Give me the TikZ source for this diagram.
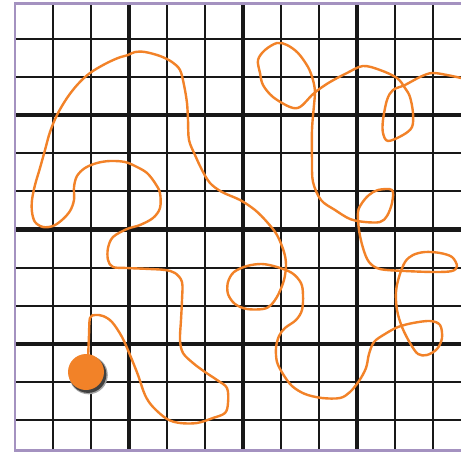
\documentclass[tikz,border=0pt]{standalone}
\definecolor{framecol}{RGB}{164,146,192}
\definecolor{curvecol}{RGB}{242,130,40}
\definecolor{inkcol}{RGB}{24,24,24}
\tikzset{
  thinline/.style={draw=inkcol, line width=2pt},
  thickline/.style={draw=inkcol, line width=4.5pt},
  framer/.style={draw=framecol, line width=2.6pt},
  pathline/.style={draw=curvecol, line width=2.4pt, line join=round, line cap=round},
}
\begin{document}
\begin{tikzpicture}[x=1pt,y=-1pt]
\useasboundingbox (0,0) rectangle (461,453);
\fill[white] (0,0) rectangle (461,453);
\foreach \k in {1,2,4,5,7,8,10,11} {
  \draw[thinline] ({53+38*(\k-1)},3) -- ({53+38*(\k-1)},450);
  \draw[thinline] (15,{39+38.1*(\k-1)}) -- (461,{39+38.1*(\k-1)});
}
\foreach \k in {3,6,9} {
  \draw[thickline] ({53+38*(\k-1)},3) -- ({53+38*(\k-1)},450);
  \draw[thickline] (15,{39+38.1*(\k-1)}) -- (461,{39+38.1*(\k-1)});
}
\draw[framer] (461,3.2) -- (15,3.2) -- (15,450.5) -- (461,450.5);
\draw[pathline] plot[smooth, tension=0.55] coordinates {
(88,360) (89,335) (90,318) (95,315) (103,316) (112,322) (122,337) (130,355)
(138,375) (145,395) (153,407) (167,419) (180,423) (197,423) (213,418) (225,413)
(228,403) (227,388) (217,380) (205,372) (193,363) (183,353) (180,340) (181,320)
(182,300) (182,282) (175,273) (165,270) (150,269) (127,268) (113,267) (108,260)
(108,248) (113,237) (127,229) (140,225) (153,218) (160,208) (160,193) (155,183)
(147,173) (137,167) (125,162) (110,161) (97,163) (85,168) (77,176) (74,187)
(74,200) (70,211) (62,220) (53,226) (43,227) (35,222) (32,212) (32,200)
(35,185) (40,168) (45,150) (50,132) (57,115) (67,98) (78,84) (90,73)
(105,64) (118,58) (128,55) (135,52) (145,52) (160,56) (172,62) (180,70)
(184,85) (187,103) (188,120) (189,140) (195,155) (202,170) (210,183) (222,192)
(240,200) (255,210) (267,222) (277,235) (284,252) (286,265) (284,280) (278,295)
(271,305) (263,309) (247,309) (235,304) (228,294) (228,282) (234,272) (247,266)
(262,264) (277,267) (292,273) (301,283) (303,295) (302,310) (296,320) (285,328)
(279,336) (276,348) (277,362) (283,374) (292,386) (305,394) (322,398) (340,398)
(350,392) (359,381) (366,368) (369,354) (374,342) (385,334) (398,327) (413,323)
(430,321) (440,325) (442,338) (437,349) (427,355) (418,354) (410,343) (402,327)
(397,310) (396,292) (399,277) (405,262) (413,255) (425,252) (440,253) (452,257)
(457,266) (452,271) (435,272) (405,271) (380,269) (369,262) (363,248) (359,230)
(358,212) (362,203) (369,195) (378,190) (392,190) (392,203) (387,216) (380,222)
(365,222) (350,219) (335,210) (321,200) (313,182) (312,160) (312,130) (314,105)
(315,92) (313,80) (308,67) (298,53) (287,45) (277,43) (265,50) (258,60)
(260,73) (263,85) (273,97) (290,107) (300,107) (312,95) (318,90) (330,82)
(347,73) (363,66) (380,70) (397,78) (405,88) (410,97) (413,113) (412,127)
(403,135) (388,141) (383,133) (383,120) (387,100) (393,90) (405,85) (420,77)
(432,73) (447,75) (461,78)
};
\fill[gray!70] (88.5,375) circle (19.3);
\fill[black!75] (88,374.5) circle (18.4);
\node[circle, fill=curvecol, minimum size=36pt, inner sep=0pt] (ball) at (86,372) {};
\end{tikzpicture}
\end{document}
